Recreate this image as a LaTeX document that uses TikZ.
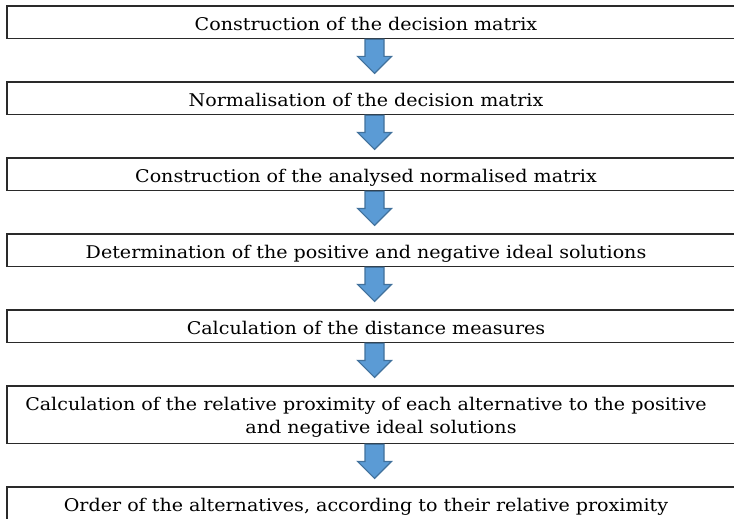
\documentclass[tikz,border=0pt]{standalone}
\usepackage{fontspec}
\setmainfont{DejaVu Serif}[FakeStretch=1.09]
\usetikzlibrary{calc}
\definecolor{arrowfill}{HTML}{5B9BD5}
\definecolor{arrowline}{HTML}{41719C}
\definecolor{boxline}{HTML}{2A2A2A}
\newcommand\topst{\rule{0pt}{24.5pt}}
\newcommand\botst[1]{\rule[-#1pt]{0pt}{#1pt}}
\tikzset{
  stepbox/.style={anchor=north, inner xsep=0pt, inner ysep=0pt, minimum width=718pt,
    align=center, font=\fontsize{17.5}{22.5}\selectfont},
  boxedge/.style={draw=boxline, line width=1.5pt},
  blockarrow/.style={fill=arrowfill, draw=arrowline, line width=1.2pt, line join=miter}
}
\newcommand\openbox[1]{%
  \draw[boxedge] ($(#1.north east)+(40,0)$) -- (#1.north west) -- (#1.south west) -- ($(#1.south east)+(40,0)$);}
\newcommand\stepdownarrow[1]{%
  \draw[blockarrow] ($(#1.south)+(-1,0.8)$) -- ++(0,17.2) -- ++(-7.5,0) -- ++(17,17) -- ++(17,-17) -- ++(-7.5,0) -- ++(0,-17.2) -- cycle;}
\begin{document}
\begin{tikzpicture}[x=1pt,y=-1pt]
\useasboundingbox (0,0) rectangle (734,519);
\clip (0,0) rectangle (734,519);
\node[stepbox] (b1) at (366,6) {\topst Construction of the decision matrix\botst{7.5}};
\node[stepbox] (b2) at (366,82) {\topst Normalisation of the decision matrix\botst{7.5}};
\node[stepbox] (b3) at (366,158) {\topst Construction of the analysed normalised matrix\botst{7.5}};
\node[stepbox] (b4) at (366,234) {\topst Determination of the positive and negative ideal solutions\botst{7.5}};
\node[stepbox] (b5) at (366,310) {\topst Calculation of the distance measures\botst{7.5}};
\node[stepbox] (b6) at (366,386) {\topst Calculation of the relative proximity of each alternative to the positive\\ \hspace*{30pt}and negative ideal solutions\botst{10}};
\node[stepbox] (b7) at (366,487) {\topst Order of the alternatives, according to their relative proximity\botst{7.5}};
\foreach \b in {b1,b2,b3,b4,b5,b6,b7} {\openbox{\b}}
\foreach \b in {b1,b2,b3,b4,b5,b6} {\stepdownarrow{\b}}
\end{tikzpicture}
\end{document}
